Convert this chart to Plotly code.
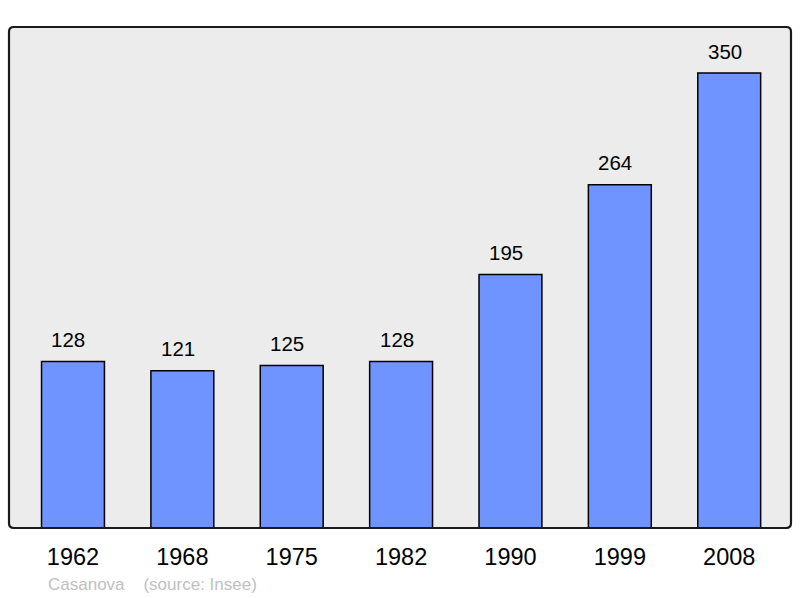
import plotly.graph_objects as go

years = ["1962", "1968", "1975", "1982", "1990", "1999", "2008"]
population = [128, 121, 125, 128, 195, 264, 350]
commune = "Casanova"
source = "(source: Insee)"

FONT = "Liberation Sans, Arial, sans-serif"

fig = go.Figure()
fig.add_trace(go.Bar(
    x=list(range(len(years))),
    y=population,
    width=0.575,
    marker=dict(color="#7094ff", line=dict(color="#000000", width=1.5)),
    hoverinfo="skip",
))

for i, v in enumerate(population):
    fig.add_annotation(x=i, y=v, text=str(v), showarrow=False,
                       yanchor="middle", yshift=22, xshift=-4.5,
                       font=dict(family=FONT, size=20.5, color="#000000"))

fig.add_annotation(xref="paper", yref="paper", x=0.047, y=-0.112,
                   xanchor="left", yanchor="middle", showarrow=False,
                   text=commune + "&nbsp;&nbsp;&nbsp;&nbsp;" + source,
                   font=dict(family=FONT, size=17, color="#c0c0c0"))

# plot frame with slightly rounded corners
r = 0.006
ry = r * 782 / 501
path = (f"M {r},0 L {1-r},0 Q 1,0 1,{ry} L 1,{1-ry} Q 1,1 {1-r},1 "
        f"L {r},1 Q 0,1 0,{1-ry} L 0,{ry} Q 0,0 {r},0 Z")
fig.add_shape(type="path", xref="paper", yref="paper", path=path,
              line=dict(color="#1a1a1a", width=2.2), layer="above")

fig.update_layout(
    width=800, height=598,
    margin=dict(l=9, r=9, t=27, b=70),
    paper_bgcolor="#ffffff",
    plot_bgcolor="#ececec",
    showlegend=False,
    font=dict(family=FONT),
    xaxis=dict(
        range=[-0.585, 6.565],
        tickmode="array",
        tickvals=list(range(len(years))),
        ticktext=years,
        showgrid=False, zeroline=False, showline=False,
        ticks="outside", ticklen=8, tickcolor="rgba(0,0,0,0)",
        tickfont=dict(size=23.5, color="#000000"),
        fixedrange=True,
    ),
    yaxis=dict(
        range=[0, 385.4],
        showgrid=False, zeroline=False, showline=False,
        showticklabels=False, ticks="",
        fixedrange=True,
    ),
)

fig.write_html("out.html", config={"displayModeBar": False},
               post_script="document.body.style.margin='0';")
